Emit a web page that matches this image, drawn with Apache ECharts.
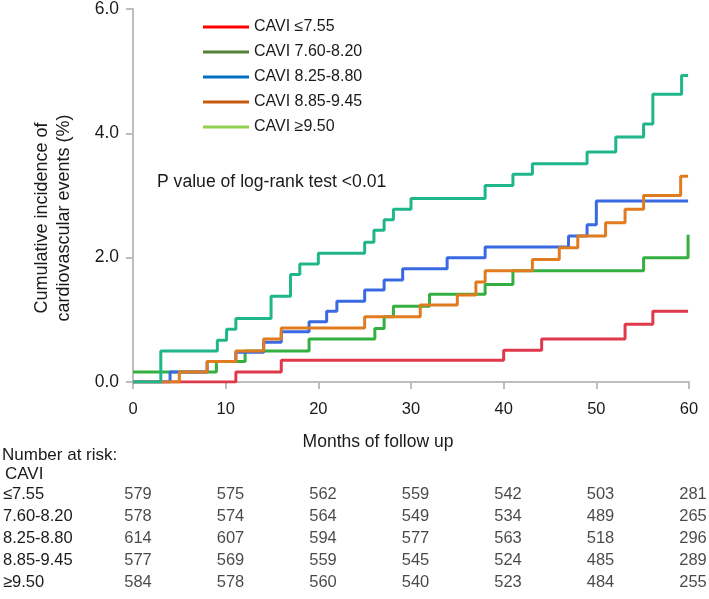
<!DOCTYPE html>
<html>
<head>
<meta charset="utf-8">
<script src="https://cdn.jsdelivr.net/npm/echarts@6/dist/echarts.min.js"></script>
<style>
html, body { margin: 0; padding: 0; background: #fff; }
#main { width: 709px; height: 599px; }
</style>
</head>
<body>
<div id="main"></div>
<script>
// groups (legend order)
const groupNames = ['CAVI ≤7.55', 'CAVI 7.60-8.20', 'CAVI 8.25-8.80', 'CAVI 8.85-9.45', 'CAVI ≥9.50'];
const legendColors = ['#FF0000', '#548235', '#0070C0', '#C55A11', '#92D050'];
const curveColors = ['#E0394B', '#33B03F', '#3A6AE3', '#E07B1F', '#1FB68A'];

// step curves: time in months, cumulative incidence (%)
const t1 = [0, 11.1, 16.0, 40.0, 44.1, 53.1, 56.1, 59.9];
const v1 = [0, 0.16, 0.35, 0.51, 0.69, 0.93, 1.14, 1.14];

const t2 = [0, 9.0, 12.1, 19.0, 26.1, 27.1, 28.1, 32.0, 38.0, 41.0, 55.1, 59.9];
const v2 = [0.16, 0.33, 0.50, 0.69, 0.86, 1.05, 1.22, 1.41, 1.57, 1.79, 2.00, 2.37];

const t3 = [0, 4.0, 8.0, 11.1, 14.1, 16.0, 19.0, 20.9, 22.0, 25.0, 27.1, 29.1, 33.9, 38.0, 47.0, 49.0, 50.0, 59.9];
const v3 = [0, 0.16, 0.33, 0.48, 0.64, 0.81, 0.97, 1.14, 1.30, 1.48, 1.64, 1.82, 2.00, 2.17, 2.35, 2.53, 2.91, 2.91];

const t4 = [0, 5.0, 8.0, 11.1, 14.1, 16.0, 25.0, 31.0, 35.0, 37.0, 38.0, 43.1, 46.0, 48.0, 51.0, 53.1, 55.1, 59.1, 59.9];
const v4 = [0, 0.16, 0.33, 0.50, 0.69, 0.87, 1.05, 1.24, 1.40, 1.61, 1.79, 1.97, 2.16, 2.35, 2.56, 2.78, 3.00, 3.31, 3.31];

const t5 = [0, 3.0, 9.1, 10.1, 11.1, 14.9, 17.0, 18.0, 20.0, 25.0, 26.0, 27.1, 28.1, 30.0, 38.0, 41.0, 43.1, 49.0, 52.1, 55.1, 56.1, 59.2, 59.9];
const v5 = [0, 0.50, 0.67, 0.85, 1.02, 1.38, 1.73, 1.90, 2.07, 2.25, 2.44, 2.61, 2.78, 2.95, 3.16, 3.34, 3.51, 3.70, 3.94, 4.15, 4.63, 4.93, 4.93];

const xTicks = [0, 10, 20, 30, 40, 50, 60];

// number at risk table
const riskRows = ['≤7.55', '7.60-8.20', '8.25-8.80', '8.85-9.45', '≥9.50'];
const risk1 = [579, 575, 562, 559, 542, 503, 281];
const risk2 = [578, 574, 564, 549, 534, 489, 265];
const risk3 = [614, 607, 594, 577, 563, 518, 296];
const risk4 = [577, 569, 559, 545, 524, 485, 289];
const risk5 = [584, 578, 560, 540, 523, 484, 255];

const pText = 'P value of log-rank test <0.01';

const font = "'Liberation Sans', Arial, sans-serif";
const txt = '#1a1a1a';
const axisGrey = '#BDBDBD';

const times = [t1, t2, t3, t4, t5];
const vals = [v1, v2, v3, v4, v5];
const risks = [risk1, risk2, risk3, risk4, risk5];

var myChart = echarts.init(document.getElementById('main'));

let series = [];
groupNames.forEach((name, i) => {
    series.push({
        name: name,
        type: 'line',
        step: 'end',
        showSymbol: false,
        symbol: 'none',
        data: times[i].map((t, k) => [t, vals[i][k]]),
        itemStyle: { color: curveColors[i] },
        lineStyle: { color: curveColors[i], width: 3 },
        z: 2 + i
    });
});

// risk table as labels placed on the second grid
let riskData = [];
risks.forEach((arr, r) => {
    arr.forEach((n, k) => {
        riskData.push([xTicks[k], riskRows[r], n]);
    });
});
series.push({
    type: 'scatter',
    xAxisIndex: 1,
    yAxisIndex: 1,
    symbolSize: 0,
    silent: true,
    data: riskData,
    label: {
        show: true,
        position: 'inside',
        offset: [4, 0],
        formatter: p => String(p.value[2]),
        color: txt,
        fontFamily: font,
        fontSize: 16.5
    }
});

var option = {
    animation: false,
    backgroundColor: '#fff',
    textStyle: { fontFamily: font },
    grid: [
        { left: 133, right: 20, top: 8, bottom: 217, containLabel: false },
        { left: 133, right: 20, top: 484, bottom: 6, containLabel: false }
    ],
    legend: {
        orient: 'vertical',
        left: 203,
        top: 17,
        padding: 0,
        icon: 'rect',
        itemWidth: 46,
        itemHeight: 3,
        itemGap: 5,
        textStyle: { color: txt, fontSize: 16, lineHeight: 20, fontFamily: font },
        data: groupNames.map((n, i) => ({
            name: n,
            itemStyle: { color: legendColors[i] },
            lineStyle: { color: legendColors[i] }
        }))
    },
    xAxis: [
        {
            type: 'value',
            gridIndex: 0,
            min: 0,
            max: 60,
            interval: 10,
            axisLine: { show: true, lineStyle: { color: axisGrey, width: 2 } },
            axisTick: { show: true, length: 7, lineStyle: { color: axisGrey, width: 2 } },
            axisLabel: { color: txt, fontSize: 16.5, margin: 19, fontFamily: font },
            splitLine: { show: false }
        },
        {
            type: 'value',
            gridIndex: 1,
            min: 0,
            max: 60,
            show: false
        }
    ],
    yAxis: [
        {
            type: 'value',
            gridIndex: 0,
            min: 0,
            max: 6,
            interval: 2,
            axisLine: { show: true, lineStyle: { color: axisGrey, width: 2 } },
            axisTick: { show: true, length: 7, lineStyle: { color: axisGrey, width: 2 } },
            axisLabel: { color: txt, fontSize: 17.5, margin: 14, fontFamily: font, formatter: v => v.toFixed(1) },
            splitLine: { show: false }
        },
        {
            type: 'category',
            gridIndex: 1,
            inverse: true,
            data: riskRows,
            axisLine: { show: false },
            axisTick: { show: false },
            splitLine: { show: false },
            axisLabel: { color: txt, fontSize: 16.5, margin: 131, align: 'left', interval: 0, hideOverlap: false, fontFamily: font }
        }
    ],
    graphic: [
        {
            type: 'text',
            left: 157,
            top: 173,
            style: { text: pText, fill: txt, font: '17.6px ' + font }
        },
        {
            type: 'text',
            x: 378,
            y: 442,
            style: { text: 'Months of follow up', fill: txt, font: '17.5px ' + font, textAlign: 'center', textVerticalAlign: 'middle' }
        },
        {
            type: 'text',
            x: 53,
            y: 218,
            rotation: Math.PI / 2,
            style: {
                text: 'Cumulative incidence of\ncardiovascular events (%)',
                fill: txt,
                font: '18px ' + font,
                lineHeight: 22,
                textAlign: 'center',
                textVerticalAlign: 'middle'
            }
        },
        {
            type: 'text',
            x: 2,
            y: 455,
            style: { text: 'Number at risk:', fill: txt, font: '17px ' + font, textVerticalAlign: 'middle' }
        },
        {
            type: 'text',
            x: 5,
            y: 474,
            style: { text: 'CAVI', fill: txt, font: '17px ' + font, textVerticalAlign: 'middle' }
        }
    ],
    series: series
};

myChart.setOption(option);
</script>
</body>
</html>
